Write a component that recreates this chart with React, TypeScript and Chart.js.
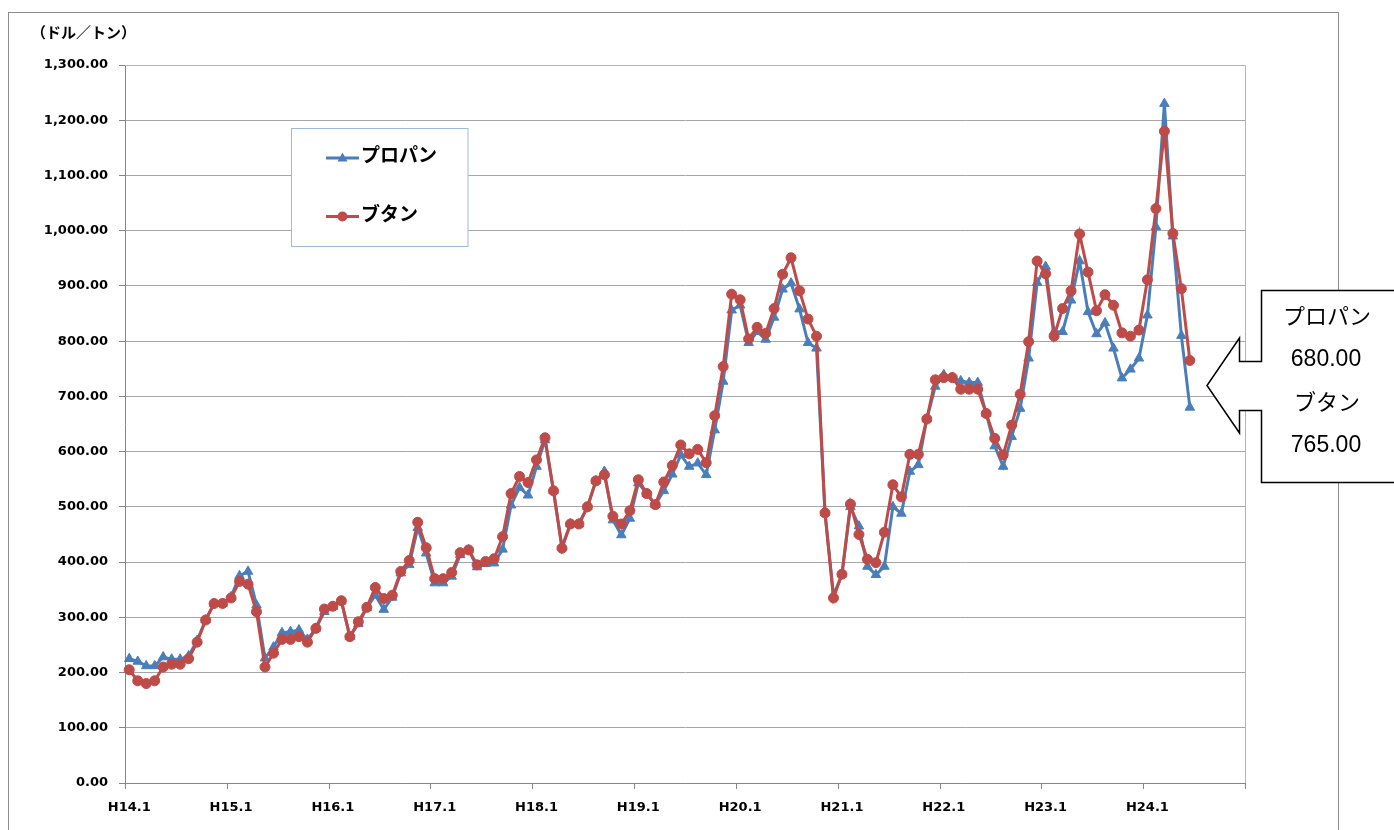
import { useEffect, useRef } from 'react';
import { Chart, registerables } from 'chart.js';

Chart.register(...registerables);

const eraYears = ['H14', 'H15', 'H16', 'H17', 'H18', 'H19', 'H20', 'H21', 'H22', 'H23', 'H24'];
const monthNumbers = [1, 2, 3, 4, 5, 6, 7, 8, 9, 10, 11, 12];
const categories: string[] = eraYears.flatMap((y) => monthNumbers.map((m) => `${y}.${m}`));

// プロパン (US$/t), H14.1 – H24.6
const propane = [
  225, 220, 212, 212, 228, 224, 224, 230, 258, 295, 325, 325,
  337, 375, 383, 322, 226, 246, 272, 274, 277, 260, 280, 310,
  319, 329, 265, 288, 317, 340, 314, 336, 380, 395, 462, 416,
  362, 362, 374, 413, 422, 391, 397, 398, 423, 503, 535, 521,
  573, 621, 529, 428, 469, 469, 500, 547, 564, 476, 449, 479,
  543, 524, 504, 529, 559, 594, 573, 579, 558, 639, 727, 856,
  865, 797, 817, 803, 843, 894, 905, 858, 797, 787, 489, 340,
  378, 500, 465, 392, 377, 392, 500, 488, 564, 576, 659, 718,
  739, 734, 728, 725, 725, 669, 610, 573, 627, 678, 769, 906,
  935, 817, 817, 874, 945, 853, 813, 833, 787, 733, 749, 769,
  847, 1007, 1230, 990, 810, 680,
];

// ブタン (US$/t), H14.1 – H24.6
const butane = [
  205, 185, 180, 185, 210, 215, 215, 225, 255, 295, 325, 325,
  335, 365, 360, 310, 210, 235, 260, 260, 265, 255, 280, 315,
  320, 330, 265, 292, 318, 354, 334, 340, 383, 403, 472, 426,
  370, 370, 381, 417, 422, 395, 401, 406, 446, 524, 555, 544,
  585, 625, 529, 425, 469, 469, 500, 547, 558, 483, 469, 493,
  549, 524, 504, 545, 575, 612, 596, 604, 580, 665, 754, 885,
  875, 804, 825, 814, 859, 921, 951, 891, 840, 809, 489, 335,
  378, 505, 450, 405, 399, 454, 540, 518, 595, 595, 659, 730,
  734, 734, 713, 713, 713, 669, 624, 594, 648, 704, 799, 945,
  922, 809, 859, 891, 994, 925, 855, 884, 865, 815, 809, 820,
  911, 1040, 1180, 995, 895, 765,
];

const yTickValues = [0, 100, 200, 300, 400, 500, 600, 700, 800, 900, 1000, 1100, 1200, 1300];

const seriesNames = ['プロパン', 'ブタン'];
const latestValues = ['680.00', '765.00'];
const unitLabel = '（ドル／トン）';

const BLUE = '#4a7ebb';
const RED = '#be4b48';
const AXIS = '#868686';
const GRID = '#a6a6a6';
const JP = '"Noto Sans CJK JP", "Noto Sans", sans-serif';

const fmt = (v: number) =>
  v.toLocaleString('en-US', { minimumFractionDigits: 2, maximumFractionDigits: 2 });

const decorPlugin = {
  id: 'decor',
  beforeDraw(chart: any) {
    const ctx = chart.ctx;
    ctx.save();
    ctx.fillStyle = '#ffffff';
    ctx.fillRect(0, 0, chart.width, chart.height);
    ctx.strokeStyle = '#8c8c8c';
    ctx.lineWidth = 1;
    ctx.strokeRect(8.5, 12.5, 1330, 900);
    ctx.restore();
  },
  beforeDatasetsDraw(chart: any) {
    const { ctx, chartArea } = chart;
    const xs = chart.scales.x;
    ctx.save();
    // plot area border (top / right)
    ctx.strokeStyle = '#9bb7d9';
    ctx.lineWidth = 1;
    ctx.beginPath();
    ctx.moveTo(chartArea.left, Math.round(chartArea.top) + 0.5);
    ctx.lineTo(Math.round(chartArea.right) + 0.5, Math.round(chartArea.top) + 0.5);
    ctx.lineTo(Math.round(chartArea.right) + 0.5, chartArea.bottom);
    ctx.stroke();
    // x tick marks at category boundaries every 12 months
    const half = (xs.getPixelForValue(1) - xs.getPixelForValue(0)) / 2;
    ctx.strokeStyle = AXIS;
    ctx.beginPath();
    for (let i = 0; i <= categories.length; i += 12) {
      const px = Math.round(xs.getPixelForValue(i) - half) + 0.5;
      ctx.moveTo(px, chartArea.bottom);
      ctx.lineTo(px, chartArea.bottom + 6);
    }
    ctx.stroke();
    ctx.restore();
  },
  afterDraw(chart: any) {
    const ctx = chart.ctx;
    ctx.save();
    // unit label
    ctx.fillStyle = '#000';
    ctx.font = `bold 15px ${JP}`;
    ctx.textAlign = 'left';
    ctx.textBaseline = 'middle';
    ctx.fillText(unitLabel, 31, 32);

    // legend box
    ctx.fillStyle = '#ffffff';
    ctx.fillRect(291.5, 128.5, 176.5, 118);
    ctx.strokeStyle = '#9db9dc';
    ctx.lineWidth = 1;
    ctx.strokeRect(291.5, 128.5, 176.5, 118);

    const entries = [
      { y: 158, color: BLUE, style: 'triangle' },
      { y: 216.5, color: RED, style: 'circle' },
    ];
    entries.forEach((e, i) => {
      ctx.strokeStyle = e.color;
      ctx.lineWidth = 3;
      ctx.beginPath();
      ctx.moveTo(326, e.y);
      ctx.lineTo(359, e.y);
      ctx.stroke();
      ctx.fillStyle = e.color;
      ctx.beginPath();
      if (e.style === 'triangle') {
        ctx.moveTo(342.5, e.y - 5.5);
        ctx.lineTo(347.5, e.y + 3.5);
        ctx.lineTo(337.5, e.y + 3.5);
        ctx.closePath();
      } else {
        ctx.arc(342.5, e.y, 5, 0, Math.PI * 2);
      }
      ctx.fill();
      ctx.fillStyle = '#000';
      ctx.font = `bold 19px ${JP}`;
      ctx.textAlign = 'left';
      ctx.textBaseline = 'middle';
      ctx.fillText(seriesNames[i], 361, e.y - 3);
    });

    // callout
    ctx.beginPath();
    ctx.moveTo(1261.5, 290.5);
    ctx.lineTo(1400, 290.5);
    ctx.lineTo(1400, 482.5);
    ctx.lineTo(1261.5, 482.5);
    ctx.lineTo(1261.5, 410.5);
    ctx.lineTo(1239.5, 410.5);
    ctx.lineTo(1239.5, 433);
    ctx.lineTo(1207, 385.5);
    ctx.lineTo(1239.5, 338);
    ctx.lineTo(1239.5, 361.5);
    ctx.lineTo(1261.5, 361.5);
    ctx.closePath();
    ctx.fillStyle = '#ffffff';
    ctx.fill();
    ctx.strokeStyle = '#000';
    ctx.lineWidth = 1.5;
    ctx.stroke();

    ctx.fillStyle = '#000';
    ctx.textAlign = 'center';
    ctx.textBaseline = 'middle';
    ctx.font = `22px ${JP}`;
    ctx.fillText(seriesNames[0], 1327, 316);
    ctx.fillText(seriesNames[1], 1327, 402);
    ctx.font = '23px "Liberation Sans", Arial, sans-serif';
    ctx.fillText(latestValues[0], 1326, 360);
    ctx.fillText(latestValues[1], 1326, 446);
    ctx.restore();
  },
};

export default function App() {
  const ref = useRef<HTMLCanvasElement | null>(null);

  useEffect(() => {
    if (!ref.current) return;
    const chart = new Chart(ref.current, {
      type: 'line',
      data: {
        labels: categories,
        datasets: [
          {
            label: seriesNames[0],
            data: propane,
            borderColor: BLUE,
            backgroundColor: BLUE,
            borderWidth: 3,
            pointStyle: 'triangle',
            pointRadius: 5.5,
            pointBorderWidth: 1,
            pointBorderColor: BLUE,
            pointBackgroundColor: BLUE,
            tension: 0,
            order: 2,
          },
          {
            label: seriesNames[1],
            data: butane,
            borderColor: RED,
            backgroundColor: RED,
            borderWidth: 3,
            pointStyle: 'circle',
            pointRadius: 5,
            pointBorderWidth: 1,
            pointBorderColor: RED,
            pointBackgroundColor: RED,
            tension: 0,
            order: 1,
          },
        ],
      },
      options: {
        animation: false,
        responsive: true,
        maintainAspectRatio: false,
        layout: { padding: { left: 0, top: 65, right: 149, bottom: 0 } },
        plugins: { legend: { display: false }, tooltip: { enabled: false } },
        scales: {
          x: {
            type: 'category',
            offset: true,
            grid: {
              offset: true,
              display: true,
              drawOnChartArea: false,
              drawTicks: true,
              tickLength: 6,
              color: 'rgba(0,0,0,0)',
              tickColor: 'rgba(0,0,0,0)',
            },
            border: { display: true, color: AXIS, width: 1 },
            ticks: {
              autoSkip: false,
              maxRotation: 0,
              minRotation: 0,
              padding: 11,
              color: '#000',
              font: { family: '"DejaVu Sans", sans-serif', size: 13, weight: 'bold' },
              callback: (_v: any, i: number) => (i % 12 === 0 ? categories[i] : null),
            },
            afterFit: (s: any) => {
              s.height = 47;
            },
          },
          y: {
            type: 'linear',
            min: yTickValues[0],
            max: yTickValues[yTickValues.length - 1],
            afterBuildTicks: (s: any) => {
              s.ticks = yTickValues.map((v) => ({ value: v }));
            },
            grid: { color: GRID, tickLength: 6, tickColor: AXIS, lineWidth: 1 },
            border: { display: true, color: AXIS, width: 1 },
            ticks: {
              padding: 11,
              color: '#000',
              font: { family: '"DejaVu Sans", sans-serif', size: 13, weight: 'bold' },
              callback: (v: any) => fmt(Number(v)),
            },
            afterFit: (s: any) => {
              s.width = 125;
            },
          },
        },
      },
      plugins: [decorPlugin],
    } as any);
    return () => chart.destroy();
  }, []);

  return (
    <div style={{ position: 'fixed', left: 0, top: 0, width: 1394, height: 830, background: '#fff' }}>
      <canvas ref={ref} />
    </div>
  );
}
